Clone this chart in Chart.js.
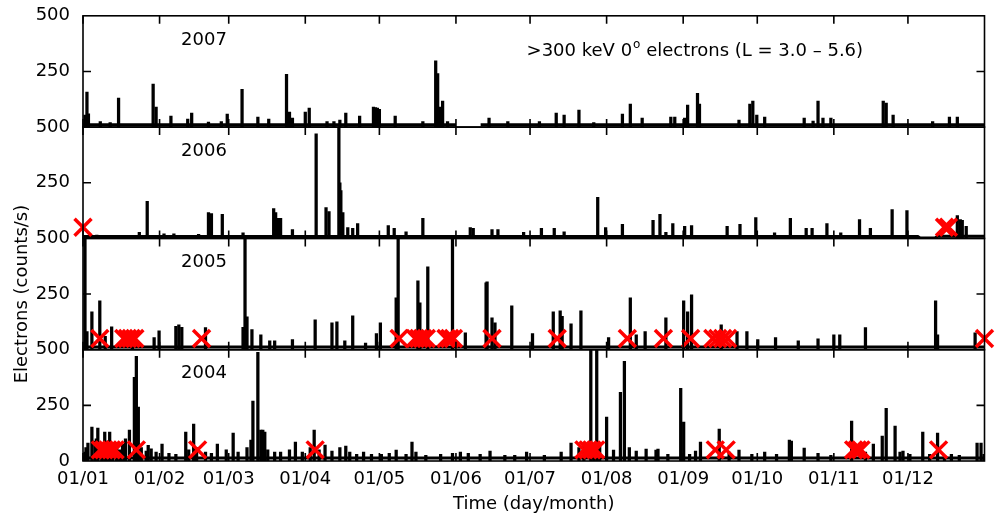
<!DOCTYPE html>
<html>
<head>
<meta charset="utf-8">
<script src="https://cdn.jsdelivr.net/npm/chart.js@4.4.0/dist/chart.umd.min.js"></script>
<style>
  body { margin: 0; background: #fff; }
  canvas { display: block; }
</style>
</head>
<body>
<canvas id="chart" width="1000" height="516"></canvas>
<script>
const monthDays = [0, 31, 59, 90, 120, 151, 181, 212, 243, 273, 304, 334];
const monthLabels = ['01/01', '01/02', '01/03', '01/04', '01/05', '01/06', '01/07', '01/08', '01/09', '01/10', '01/11', '01/12'];
const yTicks = [0, 250, 500];

// [day of year, counts/s]
const spikes2007 = [
    [0.8, 54], [1.6, 157], [2.2, 60], [7, 25], [11, 20], [14.4, 130], [28.4, 193], [29.6, 90], [35.6, 49],
    [42.4, 36], [44, 63], [50.8, 22], [56, 25], [58.4, 58], [64.4, 170], [70.8, 45], [75.2, 36], [82.4, 237],
    [83.6, 67], [84.8, 40], [90, 67], [91.6, 85], [98.8, 25], [101.6, 25], [104, 31], [106.4, 63], [112, 49],
    [117.6, 90], [118.4, 88], [119.2, 86], [120, 80], [126.4, 49], [137.6, 25], [142.8, 298], [143.6, 240],
    [144.4, 90], [145.6, 117], [147.6, 25], [164.4, 40], [172, 25], [184.8, 25], [191.6, 63], [194.8, 54],
    [200.8, 76], [206.8, 20], [218.4, 58], [221.6, 103], [226.4, 40], [238, 45], [239.6, 45], [243.6, 40],
    [244.8, 99], [248.8, 152], [249.6, 103], [265.6, 31], [270, 103], [271.2, 117], [272.8, 54], [276, 45],
    [292, 40], [295.6, 27], [297.6, 117], [299.6, 40], [302.8, 40], [324, 117], [325.2, 108], [328, 54],
    [344, 25], [350.8, 45], [354, 45]
];
const spikes2006 = [
    [5.6, 15], [22.8, 27], [26, 166], [32.8, 20], [36.8, 20], [46.8, 18], [50.8, 116], [52, 112], [56.4, 108],
    [64.8, 25], [77.2, 134], [78, 116], [78.8, 90], [80, 90], [84.8, 40], [94.4, 470], [98.4, 139], [99.6, 120],
    [103.6, 500], [104, 250], [104.4, 215], [105.2, 116], [107.2, 49], [109.2, 45], [111.2, 67], [123.6, 58],
    [126, 45], [130.8, 30], [137.6, 90], [156.8, 49], [158, 45], [165.6, 40], [168, 40], [178.4, 27], [185.6, 45],
    [190.8, 45], [194.8, 30], [208.4, 184], [211.6, 49], [218.4, 63], [230.8, 81], [233.6, 108], [236, 27],
    [238.8, 67], [243.6, 54], [246.4, 58], [260.8, 54], [266, 63], [272.4, 94], [280, 25], [286.4, 90],
    [292.8, 45], [295.2, 45], [301.2, 67], [306.8, 25], [314.4, 85], [318.8, 45], [327.6, 130], [333.6, 125],
    [354, 103], [355.2, 85], [356, 81], [357.6, 54]
];
const spikes2005 = [
    [0.8, 500], [1.6, 81], [3.6, 170], [6.8, 220], [9, 60], [11.6, 103], [20, 40], [28.8, 54], [30.8, 85],
    [37.6, 105], [38.8, 112], [40, 100], [49.6, 99], [64.8, 100], [65.6, 500], [66.4, 148], [68.4, 90], [72, 67],
    [75.6, 40], [77.6, 40], [84.8, 45], [94, 134], [100.8, 121], [102.8, 125], [106, 40], [109.2, 152], [114.4, 30],
    [118.8, 72], [120.4, 121], [126.8, 233], [127.6, 500], [135.6, 309], [136.4, 211], [139.6, 372], [149.6, 500],
    [154.8, 76], [163.2, 300], [163.6, 305], [165.6, 143], [166.8, 121], [173.6, 197], [182, 72], [190.4, 170],
    [193.2, 175], [194, 150], [197.6, 116], [201.6, 175], [212.8, 54], [221.6, 233], [224, 67], [227.6, 81],
    [236, 143], [243.2, 220], [244.8, 170], [246.4, 246], [258.4, 112], [264.8, 81], [268.8, 81], [273.2, 45],
    [280.4, 54], [289.6, 40], [297.6, 49], [304, 67], [306.4, 67], [316.8, 99], [345.2, 220], [346, 67],
    [361.2, 76]
];
const spikes2004 = [
    [0.8, 40], [1.2, 60], [2, 80], [3.6, 152], [4.8, 90], [5.4, 100], [6, 148], [7.6, 70], [8.8, 130], [9.6, 90],
    [10.8, 130], [12, 60], [13.6, 60], [14.8, 50], [16, 75], [17.2, 100], [18.8, 139], [20.8, 376], [21.6, 470],
    [22.4, 242], [23.6, 60], [25.6, 45], [26.4, 70], [27.6, 55], [29.6, 40], [32, 76], [34.8, 35], [37.6, 30],
    [41.6, 130], [42.8, 50], [44.8, 166], [46, 60], [49.6, 40], [52, 35], [54.4, 76], [58, 50], [60.8, 125],
    [62.8, 40], [66.4, 60], [68, 94], [68.8, 269], [70.8, 488], [72, 139], [72.8, 139], [73.6, 130], [74.8, 50],
    [77.6, 40], [80, 40], [83.6, 50], [86, 85], [88.8, 40], [92, 60], [93.6, 139], [95.6, 50], [98, 72],
    [100.8, 45], [104, 60], [106.4, 67], [108, 40], [110.8, 30], [113.6, 40], [116.8, 30], [120.8, 30], [124, 35],
    [126.8, 49], [130.8, 30], [133.2, 85], [134.8, 40], [138.8, 25], [144.8, 30], [149.6, 35], [152.8, 40],
    [156, 35], [160.8, 30], [164.8, 45], [170.8, 25], [174.8, 25], [179.6, 40], [186.8, 25], [193.6, 40],
    [197.6, 81], [200.8, 60], [202.8, 80], [205.6, 500], [206.8, 80], [208, 500], [209.2, 70], [212, 197],
    [214.8, 49], [217.6, 309], [219.2, 448], [221.2, 60], [224, 45], [228, 54], [232, 49], [232.8, 54],
    [236.8, 30], [242, 327], [243.2, 175], [245.6, 30], [248, 45], [250, 85], [257.6, 143], [261.6, 40],
    [265.6, 49], [270.8, 30], [276, 40], [280.8, 30], [286, 94], [286.8, 90], [292, 58], [297.6, 35], [302.8, 25],
    [311.2, 179], [316.8, 40], [320, 76], [323.6, 112], [325.2, 237], [328.8, 157], [330.8, 40], [332, 45],
    [334.8, 30], [340, 130], [342.8, 30], [346, 125], [348.8, 25], [351.6, 30], [354.8, 25], [362, 81],
    [363.6, 81], [364.8, 30]
];

// quiet background level, null = no data
const base2007 = [[0, 10], [151, 10], [151.5, null], [161, 10], [365, 10]];
const base2006 = [[0, 8], [338, 8], [339, 2], [345, 2], [346, 10], [365, 10]];
const base2005 = [[0, 12], [365, 12]];
const base2004 = [[0, 14], [365, 14]];

// red crosses (day of year)
const marks2007 = [];
const marks2006 = [0, 348.8, 350.4];
const marks2005 = [6.8, 16.5, 18, 19.5, 21, 48, 128, 134.5, 136, 137.5, 139, 147, 148.5, 150, 165.6, 192, 220.4,
    235, 246, 255, 257, 259, 261, 365];
const marks2004 = [7, 8.5, 10, 11.5, 13, 21.6, 46.4, 94, 202.8, 204.5, 206, 207.6, 256, 260.4, 312, 313.5, 315, 346.4];
const markLevel = 50;

const panels = [
    { year: '2004', axis: 'y2004', spikes: spikes2004, base: base2004, marks: marks2004 },
    { year: '2005', axis: 'y2005', spikes: spikes2005, base: base2005, marks: marks2005 },
    { year: '2006', axis: 'y2006', spikes: spikes2006, base: base2006, marks: marks2006 },
    { year: '2007', axis: 'y2007', spikes: spikes2007, base: base2007, marks: marks2007 }
];

const FONT = '"DejaVu Sans", sans-serif';
Chart.defaults.font.family = FONT;
Chart.defaults.font.size = 18;
Chart.defaults.color = '#000';

const datasets = [];
panels.forEach(p => {
    datasets.push({
        type: 'scatter',
        data: p.marks.map(d => ({ x: d, y: markLevel })),
        yAxisID: p.axis,
        pointStyle: 'crossRot',
        pointRadius: 12,
        pointBorderWidth: 3.5,
        pointBorderColor: '#ff0000',
        pointBackgroundColor: '#ff0000',
        clip: false,
        order: 0
    });
    datasets.push({
        type: 'line',
        data: p.base.map(([x, y]) => ({ x, y })),
        yAxisID: p.axis,
        borderColor: '#000',
        borderWidth: 3,
        pointRadius: 0,
        spanGaps: false,
        order: 1
    });
    datasets.push({
        type: 'bar',
        data: p.spikes.map(([x, y]) => ({ x, y })),
        yAxisID: p.axis,
        backgroundColor: '#000',
        barThickness: 2.6,
        grouped: false,
        order: 2
    });
});

function yAxis(isBottom) {
    return {
        type: 'linear',
        position: 'left',
        stack: 'years',
        stackWeight: 1,
        min: 0,
        max: 500,
        afterBuildTicks: s => { s.ticks = yTicks.map(v => ({ value: v })); },
        ticks: { padding: 5, callback: v => (v === 0 && !isBottom) ? '' : String(v) },
        grid: { display: false },
        border: { display: false },
        afterFit: s => { s.width = 83; }
    };
}

const frame = {
    id: 'frame',
    afterDraw(chart) {
        const ctx = chart.ctx;
        const xs = chart.scales.x;
        const { left, right } = chart.chartArea;
        ctx.save();
        ctx.strokeStyle = '#000';
        ctx.fillStyle = '#000';
        ctx.lineWidth = 1.6;
        panels.forEach(p => {
            const ys = chart.scales[p.axis];
            ctx.strokeRect(left, ys.top, right - left, ys.bottom - ys.top);
            ctx.beginPath();
            monthDays.forEach(d => {
                const px = xs.getPixelForValue(d);
                ctx.moveTo(px, ys.top);
                ctx.lineTo(px, ys.top + 8);
                ctx.moveTo(px, ys.bottom);
                ctx.lineTo(px, ys.bottom - 8);
            });
            const py = ys.getPixelForValue(250);
            ctx.moveTo(left, py);
            ctx.lineTo(left + 8, py);
            ctx.moveTo(right, py);
            ctx.lineTo(right - 8, py);
            ctx.stroke();

            ctx.font = '18px ' + FONT;
            ctx.textAlign = 'center';
            ctx.textBaseline = 'middle';
            ctx.fillText(p.year, xs.getPixelForValue(49), ys.getPixelForValue(392));
        });

        // panel title
        const top = chart.scales.y2007;
        let tx = xs.getPixelForValue(179.6);
        const ty = top.getPixelForValue(340);
        ctx.textAlign = 'left';
        ctx.font = '18px ' + FONT;
        const part1 = '>300 keV 0';
        ctx.fillText(part1, tx, ty);
        tx += ctx.measureText(part1).width + 1;
        ctx.font = '12px ' + FONT;
        ctx.fillText('o', tx, ty - 7);
        tx += ctx.measureText('o').width;
        ctx.font = '18px ' + FONT;
        ctx.fillText(' electrons (L = 3.0 \u2013 5.6)', tx, ty);

        // y axis title, centred on the 2005 panel
        const mid = chart.scales.y2005;
        ctx.translate(22, (mid.top + mid.bottom) / 2);
        ctx.rotate(-Math.PI / 2);
        ctx.textAlign = 'center';
        ctx.fillText('Electrons (counts/s)', 0, 0);
        ctx.restore();
    }
};

new Chart(document.getElementById('chart'), {
    type: 'bar',
    data: { datasets },
    options: {
        responsive: false,
        animation: false,
        devicePixelRatio: 1,
        events: [],
        layout: { padding: { top: 15, right: 4, left: 0, bottom: 0 } },
        plugins: { legend: { display: false }, tooltip: { enabled: false } },
        scales: {
            x: {
                type: 'linear',
                position: 'bottom',
                min: 0,
                max: 365,
                offset: false,
                afterBuildTicks: s => { s.ticks = monthDays.map(v => ({ value: v })); },
                ticks: { autoSkip: false, maxRotation: 0, padding: 0, callback: (v, i) => monthLabels[i] },
                grid: { display: false },
                border: { display: false },
                title: { display: true, text: 'Time (day/month)', padding: { top: 0, bottom: 1 } },
                afterFit: s => { s.height = 55; }
            },
            y2004: yAxis(true),
            y2005: yAxis(false),
            y2006: yAxis(false),
            y2007: yAxis(false)
        }
    },
    plugins: [frame]
});
</script>
</body>
</html>
